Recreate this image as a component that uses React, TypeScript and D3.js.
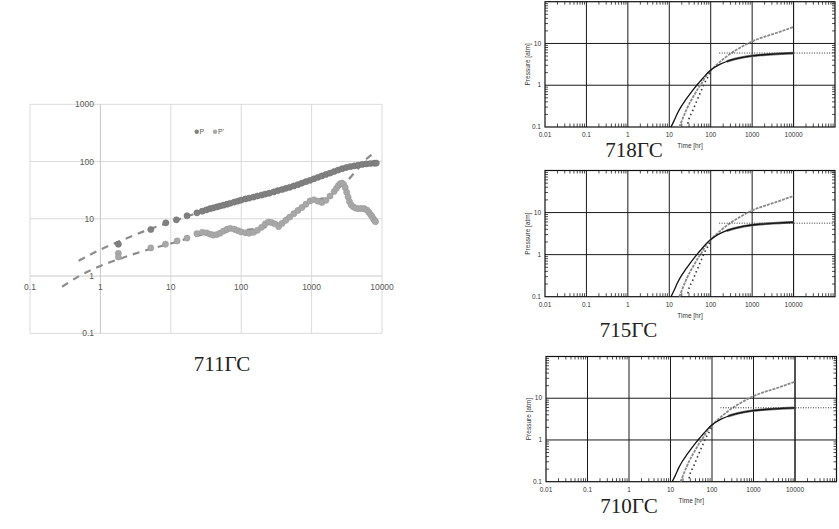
import React from "react";
import * as d3 from "d3";

// ---- left chart (711ГС): measured P and P' vs time ----
const pTime = [1.8, 5.2, 8.5, 12, 17, 23.5, 28, 32, 36, 40, 45, 50, 56, 63, 70, 80, 90, 100, 115, 130, 150, 170, 195, 220, 250, 290, 330, 380, 430, 490, 560, 640, 730, 830, 950, 1080, 1230, 1400, 1600, 1830, 2090, 2380, 2720, 3100, 3540, 4040, 4600, 5250, 6000, 6850, 7800, 8300];
const pValue = [3.6, 6.5, 8.5, 9.6, 11.3, 12.7, 13.6, 14.3, 15, 15.5, 16.1, 16.7, 17.3, 18, 18.7, 19.6, 20.4, 21.2, 22.2, 23, 24, 25, 26, 27, 28, 29.5, 31, 32.5, 34, 35.5, 37.5, 39.5, 42, 44.5, 47, 50, 53, 56, 59.5, 63, 67, 71, 75, 78.5, 81.5, 84, 86.5, 89, 91, 92.5, 93.5, 94];

const dTime = [1.8, 1.8, 5.2, 8.4, 12.3, 17, 23.5, 28, 32, 36, 40, 45, 50, 56, 63, 70, 80, 90, 100, 115, 130, 150, 170, 195, 220, 245, 270, 300, 340, 380, 430, 490, 560, 640, 730, 830, 950, 1080, 1230, 1400, 1600, 1830, 2090, 2250, 2400, 2550, 2700, 2850, 3000, 3150, 3300, 3450, 3650, 3900, 4200, 4640, 5100, 5600, 6100, 6500, 6900, 7200, 7550, 7850, 8100];
const dValue = [2.5, 2.15, 3.1, 3.6, 4.1, 4.6, 5.5, 5.8, 5.7, 5.4, 5.2, 5.3, 5.6, 6.1, 6.6, 6.8, 6.6, 6.2, 5.9, 5.7, 5.6, 5.8, 6.3, 7.1, 8.2, 8.8, 8.6, 8.2, 7.3, 8.3, 9.4, 10.7, 12.3, 14, 15.8, 18, 20.5, 21.5, 20.3, 19.3, 21, 25, 30, 34, 38, 41, 42, 40, 35, 29, 24, 20, 17.5, 16.2, 15.4, 15, 15.2, 15, 14.2, 13, 11.8, 11, 10, 9.3, 8.9];

// dashed trend lines
const trendPTime = [0.49, 1, 2, 5, 10, 30, 100, 300, 1000, 3000, 8000];
const trendPValue = [1.85, 2.9, 4.2, 6.6, 8.8, 13.8, 21, 30, 47, 76, 94];
const trendDTime = [0.286, 0.5, 1, 2, 5, 10, 30, 100, 300, 1000, 1800, 2600, 3300, 3800, 4600, 5400, 6400, 7500];
const trendDValue = [0.65, 1.0, 1.5, 2.05, 2.95, 3.7, 5.4, 6.2, 8.0, 20.5, 25, 38, 48, 58, 76, 99, 118, 138];

const leftXTicks = [0.1, 1, 10, 100, 1000, 10000];
const leftYTicks = [0.1, 1, 10, 100, 1000];

// ---- right panels: model curves (pressure [atm] vs time [hr]) ----
const modelTime = [11, 13, 16, 19, 25, 32, 40, 50, 60, 75, 100, 130, 170, 243, 350, 500, 700, 1000, 1600, 2400, 3200, 5000, 7000, 10000];
const modelPressure = [0.1, 0.14, 0.22, 0.3, 0.45, 0.63, 0.84, 1.1, 1.35, 1.75, 2.3, 2.75, 3.2, 3.7, 4.15, 4.5, 4.8, 5.06, 5.3, 5.45, 5.56, 5.7, 5.8, 5.88];
const derivTime = [17.5, 20, 25, 33, 40, 50, 60, 75, 100, 150, 243, 500, 1000, 2000, 3200, 5000, 7000, 10000];
const derivPressure = [0.1, 0.14, 0.24, 0.42, 0.58, 0.85, 1.1, 1.6, 2.25, 3.3, 4.9, 7.8, 11.2, 14.5, 16.8, 19.5, 22, 24.8];
const dotTime = [28, 30, 35, 40, 46, 53, 61, 70, 80, 92, 100];
const dotPressure = [0.12, 0.16, 0.22, 0.3, 0.42, 0.58, 0.8, 1.1, 1.4, 1.76, 2.1];
const flatStart = 160;
const panelNames = ["718ГС", "715ГС", "710ГС"];
const flatLevel = [5.9, 5.6, 5.9];
const rightXTicks = [0.01, 0.1, 1, 10, 100, 1000, 10000];
const rightYTicks = [0.1, 1, 10];

const panels = [
  { left: 545, right: 835, top: 1.7, bottom: 127, titleX: 634, titleY: 157 },
  { left: 545, right: 835, top: 170.5, bottom: 296.7, titleX: 628.5, titleY: 337 },
  { left: 546, right: 836.5, top: 356.5, bottom: 481.7, titleX: 629, titleY: 513 },
];

const fmt = (v: number) => (v < 1 ? String(v) : d3.format("d")(v));

function LeftChart() {
  const x = d3.scaleLog().domain([0.1, 10000]).range([30, 382]);
  const y = d3.scaleLog().domain([0.1, 1000]).range([333.3, 104.3]);
  const line = d3
    .line<[number, number]>()
    .x((d) => x(d[0]))
    .y((d) => y(d[1]))
    .curve(d3.curveMonotoneX);
  const font = "'Liberation Sans', Arial, sans-serif";
  return (
    <g>
      {leftYTicks.map((t) => (
        <line key={"h" + t} x1={30} x2={382} y1={y(t)} y2={y(t)} stroke={t === 1 ? "#c8c8c8" : "#dadada"} strokeWidth={1} />
      ))}
      {leftXTicks.map((t) => (
        <line key={"v" + t} x1={x(t)} x2={x(t)} y1={104.3} y2={333.3} stroke={t === 1 ? "#c8c8c8" : "#dadada"} strokeWidth={1} />
      ))}
      {leftYTicks.map((t) => (
        <text key={"yl" + t} x={94} y={y(t) + 3} textAnchor="end" fontSize={8.5} fill="#595959" fontFamily={font}>
          {fmt(t)}
        </text>
      ))}
      {leftXTicks.map((t) => (
        <text key={"xl" + t} x={x(t)} y={y(1) + 14} textAnchor="middle" fontSize={8.5} fill="#595959" fontFamily={font}>
          {fmt(t)}
        </text>
      ))}
      <path d={line(trendPTime.map((t, i) => [t, trendPValue[i]]))!} fill="none" stroke="#8c8c8c" strokeWidth={2.2} strokeDasharray="7,6" />
      <path d={line(trendDTime.map((t, i) => [t, trendDValue[i]]))!} fill="none" stroke="#8c8c8c" strokeWidth={2.2} strokeDasharray="7,6" />
      {dTime.map((t, i) => (
        <circle key={"d" + i} cx={x(t)} cy={y(dValue[i])} r={3.1} fill="#a8a8a8" stroke="#999" strokeWidth={0.5} />
      ))}
      {pTime.map((t, i) => (
        <circle key={"p" + i} cx={x(t)} cy={y(pValue[i])} r={3.1} fill="#808080" stroke="#707070" strokeWidth={0.5} />
      ))}
      {/* legend */}
      <circle cx={196.7} cy={131.7} r={2.2} fill="#808080" />
      <text x={199.5} y={134} fontSize={7} fill="#595959" fontFamily={font}>P</text>
      <circle cx={215} cy={131.7} r={2.2} fill="#a8a8a8" />
      <text x={218} y={134} fontSize={7} fill="#595959" fontFamily={font}>P'</text>
      <text x={222} y={371} textAnchor="middle" fontSize={21} fontFamily="'Liberation Serif', 'Times New Roman', serif" fill="#222">
        711ГС
      </text>
    </g>
  );
}

function Panel({ idx }: { idx: number }) {
  const p = panels[idx];
  const x = d3.scaleLog().domain([0.01, 100000]).range([p.left, p.right]);
  const y = d3.scaleLog().domain([0.1, 100]).range([p.bottom, p.top]);
  const line = d3
    .line<[number, number]>()
    .x((d) => x(d[0]))
    .y((d) => y(d[1]))
    .curve(d3.curveMonotoneX);
  const font = "'Liberation Sans', Arial, sans-serif";
  const minorX: number[] = [];
  for (let e = -2; e < 5; e++) for (let m = 2; m <= 9; m++) minorX.push(m * Math.pow(10, e));
  const minorY: number[] = [];
  for (let e = -1; e < 2; e++) for (let m = 2; m <= 9; m++) minorY.push(m * Math.pow(10, e));
  const model = modelTime.map((t, i) => [t, modelPressure[i]] as [number, number]);
  const deriv = derivTime.map((t, i) => [t, derivPressure[i]] as [number, number]);
  const dots = dotTime.map((t, i) => [t, dotPressure[i]] as [number, number]);
  return (
    <g>
      {rightXTicks.slice(1).concat([10000]).map((t) => (
        <line key={"gv" + t} x1={x(t)} x2={x(t)} y1={p.top} y2={p.bottom} stroke="#1a1a1a" strokeWidth={1} />
      ))}
      {[1, 10].map((t) => (
        <line key={"gh" + t} x1={p.left} x2={p.right} y1={y(t)} y2={y(t)} stroke="#1a1a1a" strokeWidth={1} />
      ))}
      {minorX.map((t) => (
        <g key={"mx" + t}>
          <line x1={x(t)} x2={x(t)} y1={p.bottom} y2={p.bottom - 3.5} stroke="#222" strokeWidth={0.8} />
          <line x1={x(t)} x2={x(t)} y1={p.top} y2={p.top + 3} stroke="#222" strokeWidth={0.8} />
        </g>
      ))}
      {minorY.map((t) => (
        <g key={"my" + t}>
          <line x1={p.left} x2={p.left + 3} y1={y(t)} y2={y(t)} stroke="#222" strokeWidth={0.8} />
          <line x1={p.right} x2={p.right - 3} y1={y(t)} y2={y(t)} stroke="#222" strokeWidth={0.8} />
        </g>
      ))}
      <rect x={p.left} y={p.top} width={p.right - p.left} height={p.bottom - p.top} fill="none" stroke="#111" strokeWidth={1.2} />
      <path d={line(deriv)!} fill="none" stroke="#8a8a8a" strokeWidth={1.8} strokeDasharray="3,1" />
      <path d={line(dots)!} fill="none" stroke="#333" strokeWidth={1.6} strokeDasharray="1.5,3" />
      <path d={line(model.filter((d) => d[0] >= 200))!} fill="none" stroke="#777" strokeWidth={2.6} />
      <path d={line(model)!} fill="none" stroke="#111" strokeWidth={1.3} />
      <line x1={x(flatStart)} x2={p.right} y1={y(flatLevel[idx])} y2={y(flatLevel[idx])} stroke="#333" strokeWidth={1} strokeDasharray="1,1.5" />
      {rightYTicks.map((t) => (
        <text key={"ry" + t} x={p.left - 4} y={y(t) + 2.2} textAnchor="end" fontSize={6.5} fill="#333" fontFamily={font}>
          {fmt(t)}
        </text>
      ))}
      {rightXTicks.map((t) => (
        <text key={"rx" + t} x={x(t)} y={p.bottom + 10} textAnchor="middle" fontSize={6.5} fill="#333" fontFamily={font}>
          {fmt(t)}
        </text>
      ))}
      <text x={(p.left + p.right) / 2} y={p.bottom + 21} textAnchor="middle" fontSize={6.5} fill="#333" fontFamily={font}>
        Time [hr]
      </text>
      <text
        transform={`translate(${p.left - 15},${(p.top + p.bottom) / 2}) rotate(-90)`}
        textAnchor="middle"
        fontSize={6.5}
        fill="#333"
        fontFamily={font}
      >
        Pressure [atm]
      </text>
      <text x={p.titleX} y={p.titleY} textAnchor="middle" fontSize={21} fontFamily="'Liberation Serif', 'Times New Roman', serif" fill="#222">
        {panelNames[idx]}
      </text>
    </g>
  );
}

export default function App() {
  return (
    <svg width={839} height={529} style={{ position: "absolute", left: 0, top: 0, background: "#fff" }}>
      <rect width={839} height={529} fill="#fff" />
      <LeftChart />
      {panels.map((_, i) => (
        <Panel key={i} idx={i} />
      ))}
    </svg>
  );
}
